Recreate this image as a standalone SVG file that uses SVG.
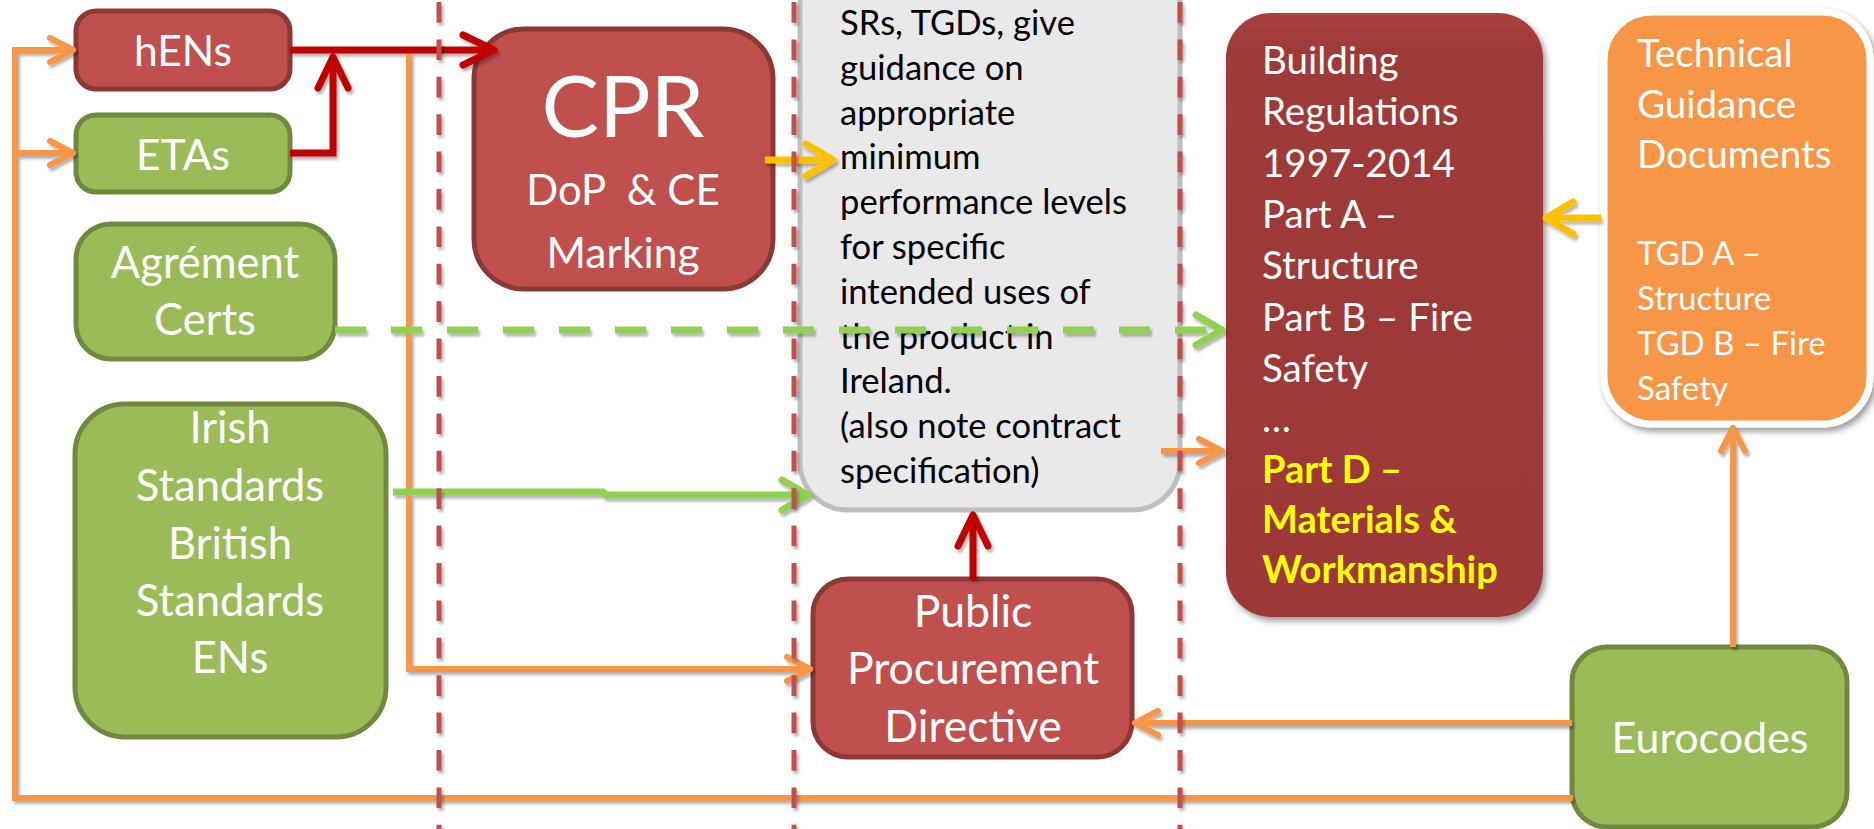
<svg xmlns="http://www.w3.org/2000/svg" width="1874" height="829" viewBox="0 0 1874 829">
<style>
text{font-family:Lato,"Open Sans","Liberation Sans",sans-serif;}
.w{fill:#FFFFFF;}
.k{fill:#000000;}
.y{fill:#FFFF00;font-weight:bold;}
.c{text-anchor:middle;}
.red{fill:#C0504D;stroke:#8C3836;stroke-width:5;}
.grn{fill:#9BBB59;stroke:#71893F;stroke-width:5;}
.ln{fill:none;stroke-linejoin:miter;}
.lr{stroke:#C00000;stroke-width:7;}
.lo{stroke:#F79646;stroke-width:6;}
.lg{stroke:#92D050;stroke-width:7;}
.ly{stroke:#FFC000;stroke-width:7;}
.mk{fill:none;stroke-linecap:round;stroke-linejoin:round;stroke-dasharray:none;}
.div{stroke:#C0504D;stroke-width:5;stroke-dasharray:20.7 16.7;fill:none;}
</style>
<defs>
<filter id="sh" x="-10%" y="-10%" width="130%" height="130%">
<feDropShadow dx="2" dy="3" stdDeviation="1.5" flood-color="#000" flood-opacity="0.3"/>
</filter>
<filter id="shb" x="-10%" y="-10%" width="130%" height="130%">
<feDropShadow dx="3" dy="4" stdDeviation="3" flood-color="#000" flood-opacity="0.4"/>
</filter>
<linearGradient id="gb" x1="0" y1="0" x2="0" y2="1">
<stop offset="0" stop-color="#A9423F"/>
<stop offset="0.06" stop-color="#9E3A38"/>
<stop offset="1" stop-color="#9C3937"/>
</linearGradient>
<marker id="arR" viewBox="-40 -25 50 50" refX="0" refY="0" markerWidth="50" markerHeight="50" markerUnits="userSpaceOnUse" orient="auto">
<path d="M-31,-15 L0,0 L-31,15" class="mk" stroke="#C00000" stroke-width="7"/>
</marker>
<marker id="arO" viewBox="-40 -25 50 50" refX="0" refY="0" markerWidth="50" markerHeight="50" markerUnits="userSpaceOnUse" orient="auto">
<path d="M-23,-12 L0,0 L-23,12" class="mk" stroke="#F79646" stroke-width="6"/>
</marker>
<marker id="arG" viewBox="-40 -25 50 50" refX="0" refY="0" markerWidth="50" markerHeight="50" markerUnits="userSpaceOnUse" orient="auto">
<path d="M-26,-15 L0,0 L-26,15" class="mk" stroke="#92D050" stroke-width="7"/>
</marker>
<marker id="arY" viewBox="-40 -25 50 50" refX="0" refY="0" markerWidth="50" markerHeight="50" markerUnits="userSpaceOnUse" orient="auto">
<path d="M-27,-16 L0,0 L-27,16" class="mk" stroke="#FFC000" stroke-width="7"/>
</marker>
</defs>
<rect width="1874" height="829" fill="#FFFFFF"/>

<g id="node-hens">
<rect class="red" x="76" y="11" width="214" height="78" rx="20"/>
<text class="w c" x="183" y="66" font-size="42.5">hENs</text>
</g>
<g id="node-etas">
<rect class="grn" x="76" y="115" width="214" height="77" rx="20"/>
<text class="w c" x="183" y="170" font-size="42.5">ETAs</text>
</g>
<g id="node-agrement">
<rect class="grn" x="76" y="224" width="259" height="135" rx="35"/>
<text class="w c" x="205" y="278" font-size="43.5">Agrément</text>
<text class="w c" x="205" y="335" font-size="43.5">Certs</text>
</g>
<g id="node-standards">
<rect class="grn" x="75" y="404" width="311" height="333" rx="50"/>
<text class="w c" x="230" y="443" font-size="43.5">Irish</text>
<text class="w c" x="230" y="501" font-size="43.5">Standards</text>
<text class="w c" x="230" y="559" font-size="43.5">British</text>
<text class="w c" x="230" y="616" font-size="43.5">Standards</text>
<text class="w c" x="230" y="673" font-size="43.5">ENs</text>
</g>
<g id="node-cpr">
<rect class="red" x="474" y="29" width="299" height="260" rx="50"/>
<text class="w c" x="623" y="137" font-size="86">CPR</text>
<text class="w c" x="623" y="205" font-size="42" xml:space="preserve">DoP  &amp; CE</text>
<text class="w c" x="623" y="268" font-size="42.5">Marking</text>
</g>
<g id="node-guidance">
<rect x="800" y="-60" width="380" height="570" rx="48" fill="#E9E9E9" stroke="#BFBFBF" stroke-width="5"/>
<text class="k" font-size="34.6">
<tspan x="840" y="35">SRs, TGDs, give</tspan>
<tspan x="840" y="80">guidance on</tspan>
<tspan x="840" y="125">appropriate</tspan>
<tspan x="840" y="169">minimum</tspan>
<tspan x="840" y="214">performance levels</tspan>
<tspan x="840" y="259">for specific</tspan>
<tspan x="840" y="304">intended uses of</tspan>
<tspan x="840" y="349">the product in</tspan>
<tspan x="840" y="393">Ireland.</tspan>
<tspan x="840" y="438">(also note contract</tspan>
<tspan x="840" y="483">specification)</tspan>
</text>
</g>
<g id="node-ppd">
<rect class="red" x="813" y="579" width="319" height="178" rx="35"/>
<text class="w c" x="973" y="627" font-size="44.5">Public</text>
<text class="w c" x="973" y="684" font-size="44.5">Procurement</text>
<text class="w c" x="973" y="742" font-size="44.5">Directive</text>
</g>
<g id="node-building-regs">
<rect x="1226" y="13" width="317" height="604" rx="45" fill="url(#gb)" filter="url(#shb)"/>
<text class="w" font-size="38.5">
<tspan x="1262" y="74">Building</tspan>
<tspan x="1262" y="125">Regulations</tspan>
<tspan x="1262" y="177">1997-2014</tspan>
<tspan x="1262" y="228">Part A –</tspan>
<tspan x="1262" y="279">Structure</tspan>
<tspan x="1262" y="331">Part B – Fire</tspan>
<tspan x="1262" y="382">Safety</tspan>
<tspan x="1262" y="432">…</tspan>
</text>
<text class="y" font-size="38">
<tspan x="1262" y="483">Part D –</tspan>
<tspan x="1262" y="533">Materials &amp;</tspan>
<tspan x="1262" y="583">Workmanship</tspan>
</text>
</g>
<g id="node-tgd">
<rect x="1604" y="12" width="266" height="412" rx="48" fill="#F79646" stroke="#FFFFFF" stroke-width="7" filter="url(#shb)"/>
<text class="w" font-size="38.5">
<tspan x="1637" y="67">Technical</tspan>
<tspan x="1637" y="118">Guidance</tspan>
<tspan x="1637" y="168">Documents</tspan>
</text>
<text class="w" font-size="33">
<tspan x="1637" y="265">TGD A –</tspan>
<tspan x="1637" y="310">Structure</tspan>
<tspan x="1637" y="355">TGD B – Fire</tspan>
<tspan x="1637" y="400">Safety</tspan>
</text>
</g>
<g id="node-eurocodes">
<rect class="grn" x="1572" y="647" width="275" height="180" rx="35"/>
<text class="w c" x="1710" y="753" font-size="43">Eurocodes</text>
</g>

<g id="connectors" filter="url(#sh)">
<path class="ln lo" d="M1573,798 H15 V50 H73" marker-end="url(#arO)"/>
<path class="ln lo" d="M15,153 H73" marker-end="url(#arO)"/>
<path class="ln lo" d="M409,53 V669 H810" marker-end="url(#arO)"/>
<path class="ln lo" d="M1572,723 H1135" marker-end="url(#arO)"/>
<path class="ln lo" d="M1733,647 V428" marker-end="url(#arO)"/>
<path class="ln lo" d="M1161,451 H1222" marker-end="url(#arO)"/>
<path class="ln lg" d="M335,330 H1222" stroke-dasharray="31 25" marker-end="url(#arG)"/>
<path class="ln lg" d="M393,492 H603 L606,495 H808" marker-end="url(#arG)"/>
<path class="ln lr" d="M290,50 H494" marker-end="url(#arR)"/>
<path class="ln lr" d="M290,153 H333 V57" marker-end="url(#arR)"/>
<path class="ln lr" d="M973,579 V515" marker-end="url(#arR)"/>
<path class="ln ly" d="M765,160 H833" marker-end="url(#arY)"/>
<path class="ln ly" d="M1601,218 H1546" marker-end="url(#arY)"/>
</g>

<g id="dividers" filter="url(#sh)">
<path class="div" d="M439,2 V829"/>
<path class="div" d="M794,2 V829"/>
<path class="div" d="M1180,2 V829"/>
</g>
</svg>
